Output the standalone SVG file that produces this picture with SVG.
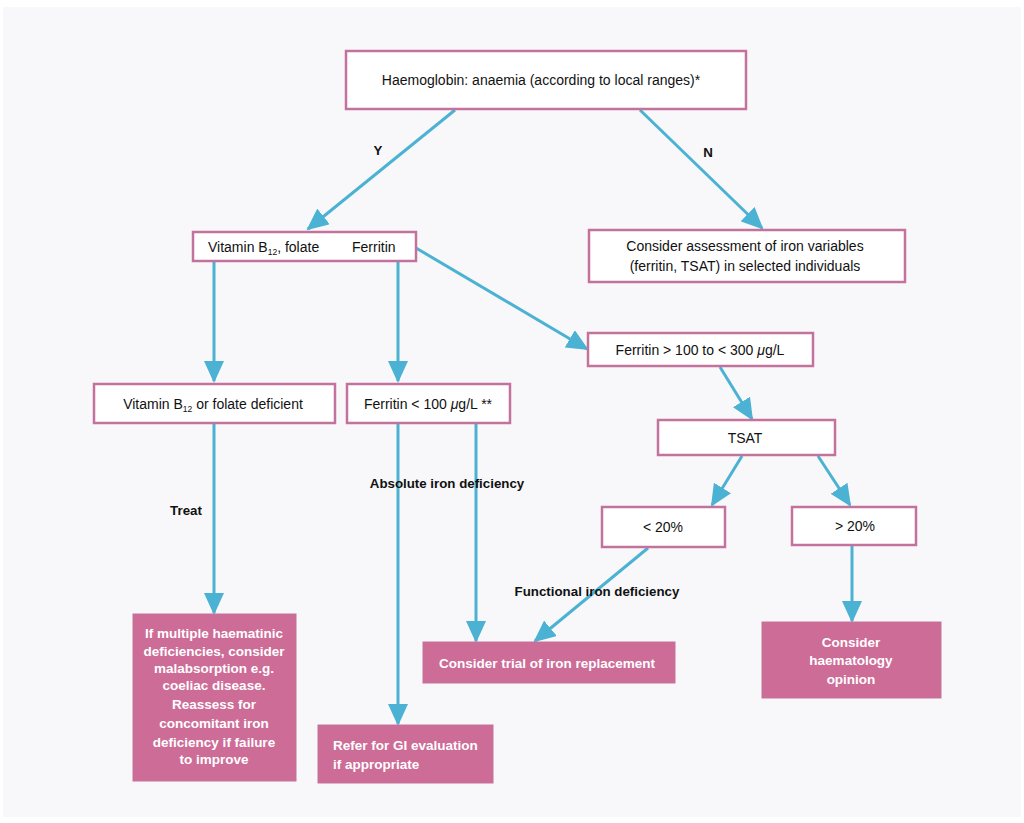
<svg xmlns="http://www.w3.org/2000/svg" width="1024" height="823" viewBox="0 0 1024 823">
<defs>
<marker id="ah" markerUnits="userSpaceOnUse" markerWidth="22" markerHeight="20" refX="20" refY="10" orient="auto">
<path d="M0,0 L22,10 L0,20 Z" fill="#4bb2d3"/>
</marker>
<style>
.box{fill:#ffffff;stroke:#c2729c;stroke-width:2.5}
.pk{fill:#cd6c97;stroke:#c4739a;stroke-width:1}
.t{font-family:"Liberation Sans",Arial,sans-serif;font-size:14px;fill:#111111;text-anchor:middle}
.w{font-family:"Liberation Sans",Arial,sans-serif;font-size:13.5px;font-weight:bold;fill:#ffffff;text-anchor:middle}
.lb{font-family:"Liberation Sans",Arial,sans-serif;font-size:13.3px;font-weight:bold;fill:#111111;text-anchor:middle}
.c{fill:none;stroke:#4bb2d3;stroke-width:3;marker-end:url(#ah)}
</style>
</defs>
<rect x="0" y="0" width="1024" height="823" fill="#ffffff"/>
<rect x="3" y="7" width="1018" height="810" fill="#f8f8fa"/>

<g id="connectors">
<line class="c" x1="455" y1="110" x2="308" y2="229"/>
<line class="c" x1="640" y1="110" x2="762" y2="228"/>
<line class="c" x1="214" y1="262" x2="214" y2="381"/>
<line class="c" x1="398" y1="262" x2="398" y2="381"/>
<line class="c" x1="416" y1="248" x2="587" y2="349"/>
<line class="c" x1="720" y1="367" x2="752" y2="419"/>
<line class="c" x1="742" y1="456" x2="712" y2="505"/>
<line class="c" x1="818" y1="456" x2="850" y2="505"/>
<line class="c" x1="214" y1="424" x2="214" y2="613"/>
<line class="c" x1="398" y1="424" x2="398" y2="724"/>
<line class="c" x1="476" y1="424" x2="476" y2="641"/>
<line class="c" x1="648" y1="548" x2="535" y2="641"/>
<line class="c" x1="852" y1="546" x2="852" y2="621"/>
</g>

<g id="labels">
<text class="lb" x="378" y="155">Y</text>
<text class="lb" x="708" y="157">N</text>
<text class="lb" x="186" y="515">Treat</text>
<text class="lb" x="447" y="488">Absolute iron deficiency</text>
<text class="lb" x="597" y="596">Functional iron deficiency</text>
</g>

<g id="n-haemoglobin">
<rect class="box" x="346" y="51" width="400" height="58"/>
<text class="t" x="541" y="85">Haemoglobin: anaemia (according to local ranges)*</text>
</g>

<g id="n-tests">
<rect class="box" x="193" y="232" width="223" height="29"/>
<text class="t" x="208" y="252" style="text-anchor:start">Vitamin B<tspan font-size="8.5" dy="3">12</tspan><tspan dy="-3">, folate</tspan></text>
<text class="t" x="352" y="252" style="text-anchor:start">Ferritin</text>
</g>

<g id="n-consider-assessment">
<rect class="box" x="589" y="230" width="316" height="52"/>
<text class="t" x="745" y="251">Consider assessment of iron variables</text>
<text class="t" x="745" y="271">(ferritin, TSAT) in selected individuals</text>
</g>

<g id="n-b12-deficient">
<rect class="box" x="94" y="384" width="241" height="39"/>
<text class="t" x="213" y="409">Vitamin B<tspan font-size="8.5" dy="3">12</tspan><tspan dy="-3"> or folate deficient</tspan></text>
</g>

<g id="n-ferritin-low">
<rect class="box" x="347" y="384" width="163" height="39"/>
<text class="t" x="428" y="409">Ferritin &lt; 100 <tspan font-style="italic">μ</tspan>g/L **</text>
</g>

<g id="n-ferritin-mid">
<rect class="box" x="588" y="333" width="225" height="33"/>
<text class="t" x="700" y="355">Ferritin &gt; 100 to &lt; 300 <tspan font-style="italic">μ</tspan>g/L</text>
</g>

<g id="n-tsat">
<rect class="box" x="658" y="420" width="177" height="35"/>
<text class="t" x="745" y="443">TSAT</text>
</g>

<g id="n-tsat-low">
<rect class="box" x="602" y="507" width="123" height="40"/>
<text class="t" x="663" y="532">&lt; 20%</text>
</g>

<g id="n-tsat-high">
<rect class="box" x="792" y="507" width="124" height="38"/>
<text class="t" x="855" y="531">&gt; 20%</text>
</g>

<g id="n-malabsorption">
<rect class="pk" x="133" y="614" width="163" height="167"/>
<text class="w" x="214" y="638">If multiple haematinic</text>
<text class="w" x="214" y="656">deficiencies, consider</text>
<text class="w" x="214" y="673">malabsorption e.g.</text>
<text class="w" x="214" y="690">coeliac disease.</text>
<text class="w" x="214" y="709">Reassess for</text>
<text class="w" x="214" y="728">concomitant iron</text>
<text class="w" x="214" y="747">deficiency if failure</text>
<text class="w" x="214" y="764">to improve</text>
</g>

<g id="n-gi">
<rect class="pk" x="318" y="725" width="175" height="58"/>
<text class="w" x="333" y="750" style="text-anchor:start">Refer for GI evaluation</text>
<text class="w" x="333" y="769" style="text-anchor:start">if appropriate</text>
</g>

<g id="n-iron-replacement">
<rect class="pk" x="423" y="642" width="252" height="41"/>
<text class="w" x="547" y="668">Consider trial of iron replacement</text>
</g>

<g id="n-haematology">
<rect class="pk" x="762" y="622" width="179" height="76"/>
<text class="w" x="851" y="647">Consider</text>
<text class="w" x="851" y="665">haematology</text>
<text class="w" x="851" y="684">opinion</text>
</g>
</svg>
